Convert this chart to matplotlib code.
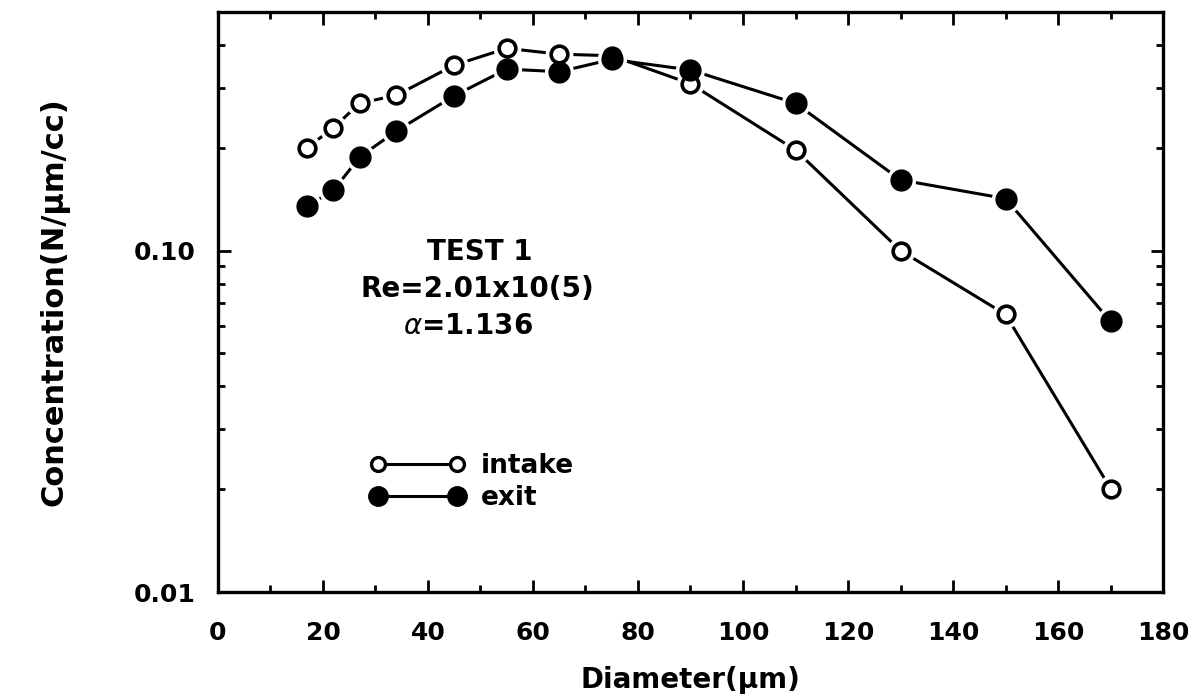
import matplotlib
matplotlib.use("Agg")
import matplotlib.pyplot as plt
from matplotlib.ticker import FixedLocator, LogLocator, NullFormatter, MultipleLocator
import numpy as np

# particle size distribution, TEST 1
diameter = [17, 22, 27, 34, 45, 55, 65, 75, 90, 110, 130, 150, 170]
intake = [0.200, 0.229, 0.270, 0.285, 0.349, 0.391, 0.376, 0.372, 0.308, 0.197, 0.100, 0.065, 0.0201]
exit_ = [0.135, 0.150, 0.188, 0.224, 0.284, 0.340, 0.334, 0.363, 0.338, 0.270, 0.161, 0.142, 0.062]

xticks = [0, 20, 40, 60, 80, 100, 120, 140, 160, 180]
yticks = [0.01, 0.1]
ytick_labels = ["0.01", "0.10"]

plt.rcParams['font.family'] = ['DejaVu Sans']

fig = plt.figure(figsize=(12.04, 6.99), dpi=100)
ax = fig.add_axes([0.181, 0.153, 0.785, 0.830])

lw = 2.2
# lines first, then white halos so lines stop short of the markers
ax.plot(diameter, intake, '-', color='black', lw=lw, zorder=2)
ax.plot(diameter, exit_, '-', color='black', lw=lw, zorder=2)
ax.plot(diameter, intake, 'o', ms=19, color='white', mec='white', zorder=3)
ax.plot(diameter, exit_, 'o', ms=20, color='white', mec='white', zorder=3)
ax.plot(diameter, intake, 'o', ms=12, mfc='white', mec='black', mew=2.6, zorder=4)
ax.plot(diameter, exit_, 'o', ms=15, mfc='black', mec='black', zorder=5)

ax.set_yscale('log')
ax.set_xlim(0, 180)
ax.set_ylim(0.01, 0.5)

ax.xaxis.set_major_locator(FixedLocator(xticks))
ax.xaxis.set_minor_locator(MultipleLocator(10))
ax.set_xticklabels([str(v) for v in xticks], fontsize=18, fontweight='bold')
ax.yaxis.set_major_locator(FixedLocator(yticks))
ax.yaxis.set_minor_locator(LogLocator(base=10, subs=np.arange(2, 10)))
ax.yaxis.set_minor_formatter(NullFormatter())
ax.set_yticklabels(ytick_labels, fontsize=18, fontweight='bold')

ax.tick_params(which='both', direction='in', top=True, right=True, width=2, color='black')
ax.tick_params(which='major', length=9)
ax.tick_params(which='minor', length=5)
ax.tick_params(axis='x', which='major', pad=21)
ax.tick_params(axis='y', which='major', pad=16)
for s in ax.spines.values():
    s.set_linewidth(2.4)

ax.set_xlabel("Diameter(\u03bcm)", fontsize=20, fontweight='bold', labelpad=15)
ax.set_ylabel("Concentration(N/\u03bcm/cc)", fontsize=22, fontweight='bold', labelpad=46)

ax.text(0.277, 0.586, "TEST 1", transform=ax.transAxes, fontsize=20, fontweight='bold',
        ha='center', va='center')
ax.text(0.274, 0.522, "Re=2.01x10(5)", transform=ax.transAxes, fontsize=20, fontweight='bold',
        ha='center', va='center')
ax.text(0.265, 0.459, r"$\alpha$=1.136", transform=ax.transAxes, fontsize=20, fontweight='bold',
        ha='center', va='center')

h1, = ax.plot([], [], '-o', color='black', lw=lw, ms=10, mfc='white', mec='black', mew=2.4)
h2, = ax.plot([], [], '-o', color='black', lw=lw, ms=14, mfc='black', mec='black')
ax.legend([h1, h2], ["intake", "exit"], loc='upper left', bbox_to_anchor=(0.161, 0.24),
          frameon=False, numpoints=2, handlelength=3.6, handletextpad=0.6,
          labelspacing=0.25, borderpad=0, borderaxespad=0,
          prop={'size': 19, 'weight': 'bold'})

fig.savefig("out.png", dpi=100)
